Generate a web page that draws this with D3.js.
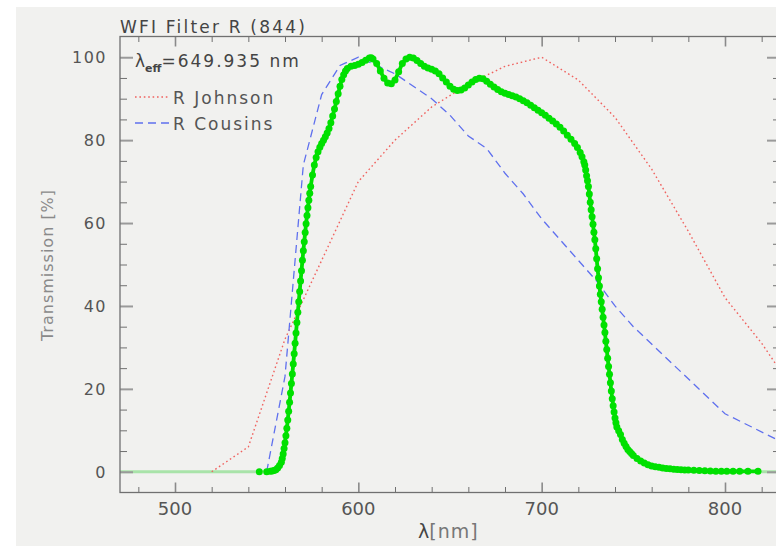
<!DOCTYPE html>
<html>
<head>
<meta charset="utf-8">
<script src="https://cdn.jsdelivr.net/npm/d3@7"></script>
<style>
  html, body { margin: 0; padding: 0; background: #ffffff; }
  svg { display: block; }
  text { font-family: "DejaVu Sans", sans-serif; }
</style>
</head>
<body>
<svg id="chart" width="776" height="546"></svg>
<script>
// ---------------- data ----------------
const titleText = "WFI Filter R (844)";
const lambdaEff = "649.935";
const xMajorTicks = [500, 600, 700, 800];
const xMinorTicks = [480, 520, 540, 560, 580, 620, 640, 660, 680, 720, 740, 760, 780, 820];
const yMajorTicks = [0, 20, 40, 60, 80, 100];
const yMinorTicks = [5, 10, 15, 25, 30, 35, 45, 50, 55, 65, 70, 75, 85, 90, 95];

// WFI R filter (844) transmission [%]
const greenNm = [546, 550, 552, 553, 554, 555, 556, 557, 558, 558.5, 559, 559.5, 560, 560.5, 561, 561.5, 562, 562.5, 563, 563.5,
  564, 564.5, 565, 565.5, 566, 566.5, 567, 567.5, 568, 568.5, 569, 569.5, 570, 570.5, 571, 571.5, 572, 572.5, 573, 573.5,
  574, 575, 576, 577, 578, 579, 580, 581, 582, 583, 584, 585, 586, 587, 588, 589, 590, 591, 592, 593,
  594, 596, 598, 600, 602, 604, 606, 607, 608, 610, 612, 614, 616, 618, 620, 622, 624, 626, 628, 630,
  632, 634, 636, 638, 640, 642, 644, 646, 648, 650, 652, 654, 656, 658, 660, 662, 664, 666, 668, 670,
  672, 674, 676, 678, 680, 682, 684, 686, 688, 690, 692, 694, 696, 698, 700, 702, 704, 706, 708, 710,
  712, 714, 716, 718, 719.5, 721, 722, 723, 723.5, 724, 724.5, 725, 725.5, 726, 726.5, 727, 727.5, 728, 728.5, 729,
  729.5, 730, 730.5, 731, 731.5, 732, 732.5, 733, 733.5, 734, 734.5, 735, 735.5, 736, 736.5, 737, 737.5, 738, 738.5, 739,
  739.5, 740, 740.5, 741, 742, 743, 744, 745, 746, 747, 748, 749, 750, 752, 754, 756, 758, 760, 762, 764,
  766, 768, 770, 772, 774, 776, 778, 780, 783, 786, 789, 792, 795, 798, 801, 804.4, 808, 812.5, 818];
const greenT = [0, 0, 0.1, 0.2, 0.3, 0.5, 0.9, 1.5, 2.3, 3.2, 4.3, 5.6, 7.0, 8.7, 10.5, 12.5, 14.6, 16.8, 19.0, 21.3,
  23.6, 26.0, 28.5, 31.0, 33.5, 36.0, 38.5, 41.0, 43.5, 46.0, 48.5, 51.0, 53.3, 55.5, 57.7, 59.8, 61.8, 63.7, 65.5, 67.2,
  68.8, 71.6, 74.0, 75.8, 77.2, 78.3, 79.2, 80.0, 80.8, 81.7, 82.8, 84.2, 85.8, 87.5, 89.3, 91.2, 93.0, 94.6, 95.8, 96.7,
  97.3, 97.8, 98.0, 98.3, 98.7, 99.3, 99.8, 99.9, 99.6, 98.5, 96.7, 94.9, 93.8, 93.6, 94.5, 96.5, 98.5, 99.6, 100, 99.8,
  99.2, 98.5, 97.8, 97.4, 97.1, 96.7, 96.0, 95.0, 94.0, 93.0, 92.3, 92.0, 92.1, 92.6, 93.3, 94.0, 94.6, 94.9, 94.8, 94.2,
  93.5, 92.8, 92.2, 91.7, 91.3, 91.0, 90.7, 90.4, 90.0, 89.5, 89.0, 88.4, 87.8, 87.2, 86.6, 86.0, 85.3, 84.6, 83.9, 83.1,
  82.2, 81.2, 80.2, 79.2, 78.2, 77.0, 76.0, 74.8, 74.0, 72.8, 71.4, 70.2, 68.8, 67.0, 65.0, 63.2, 61.5, 59.7, 57.8, 56.0,
  53.8, 51.4, 49.0, 46.8, 44.8, 42.8, 41.0, 39.2, 37.3, 35.4, 33.6, 31.5, 29.5, 27.4, 25.4, 23.5, 21.5, 19.5, 17.6, 15.9,
  14.4, 13.0, 11.8, 10.8, 9.9, 9.0, 7.8, 6.9, 6.1, 5.4, 4.9, 4.4, 3.9, 3.2, 2.6, 2.1, 1.7, 1.4, 1.2, 1.1,
  0.9, 0.8, 0.7, 0.6, 0.55, 0.5, 0.45, 0.4, 0.35, 0.3, 0.25, 0.2, 0.15, 0.1, 0.1, 0.1, 0.1, 0.1, 0.1];

// flat zero segments outside the measured range
const baseLeftNm = [470, 546];
const baseRightNm = [818, 830];

// R Johnson
const johnsonNm = [520, 540, 560, 580, 600, 620, 640, 660, 680, 700, 720, 740, 760, 780, 800, 820, 840];
const johnsonT = [0, 6, 32, 51, 70, 80, 88, 93.5, 97.8, 100, 94.5, 85.5, 73, 58, 42, 31, 18];

// R Cousins
const cousinsNm = [550, 560, 570, 580, 590, 600, 610, 620, 630, 640, 650, 660, 670, 680, 690, 700, 710, 720, 730, 740, 750, 800, 850];
const cousinsT = [0, 23, 74, 91, 98, 100, 98, 96, 93, 90, 86, 81, 78, 72, 67, 61, 56, 51, 46, 40, 35, 14, 3];

// ---------------- chart ----------------
const svg = d3.select("#chart");
const plot = { left: 120, right: 780, top: 36.5, bottom: 492.5 };

svg.append("rect").attr("x", 16).attr("y", 7).attr("width", 760).attr("height", 539).attr("fill", "#f1f1ef");

const x = d3.scaleLinear().domain([470, 830]).range([plot.left, plot.right]);
const y = d3.scaleLinear().domain([-5, 105]).range([plot.bottom, plot.top]);

svg.append("defs").append("clipPath").attr("id", "clip")
  .append("rect").attr("x", plot.left).attr("y", plot.top)
  .attr("width", plot.right - plot.left).attr("height", plot.bottom - plot.top);

const line = d3.line().x(d => x(d[0])).y(d => y(d[1]));
const g = svg.append("g").attr("clip-path", "url(#clip)");

// pale zero baseline segments
[baseLeftNm, baseRightNm].forEach(seg => {
  g.append("path").attr("d", line(seg.map(v => [v, 0])))
    .attr("fill", "none").attr("stroke", "#a9e3a9").attr("stroke-width", 3);
});

// Johnson dotted
g.append("path").attr("d", line(johnsonNm.map((v, i) => [v, johnsonT[i]])))
  .attr("fill", "none").attr("stroke", "#f0625f").attr("stroke-width", 1.4)
  .attr("stroke-dasharray", "1.6 2.8");

// Cousins dashed
g.append("path").attr("d", line(cousinsNm.map((v, i) => [v, cousinsT[i]])))
  .attr("fill", "none").attr("stroke", "#5f70ee").attr("stroke-width", 1.3)
  .attr("stroke-dasharray", "8 5");

// green filter curve
const greenData = greenNm.map((v, i) => [v, greenT[i]]);
g.append("path").attr("d", line(greenData.filter(d => d[0] >= 550)))
  .attr("fill", "none").attr("stroke", "#00e000").attr("stroke-width", 3.8)
  .attr("stroke-linejoin", "round").attr("stroke-linecap", "round");
g.selectAll("circle.g").data(greenData).enter().append("circle")
  .attr("cx", d => x(d[0])).attr("cy", d => y(d[1])).attr("r", 3.5).attr("fill", "#00e000");

// ---------------- axes ----------------
const axisColor = "#707070";
function styleAxis(sel, color, width) {
  sel.select(".domain").remove();
  sel.selectAll(".tick line").attr("stroke", color).attr("stroke-width", width);
}
// bottom
svg.append("g").attr("transform", `translate(0,${plot.bottom})`)
  .call(d3.axisBottom(x).tickValues(xMinorTicks).tickSize(-5.5).tickFormat(""))
  .call(s => styleAxis(s, "#707070", 1));
svg.append("g").attr("transform", `translate(0,${plot.bottom})`)
  .call(d3.axisBottom(x).tickValues(xMajorTicks).tickSize(-10).tickFormat(""))
  .call(s => styleAxis(s, "#8a8a8a", 1.6));
// top
svg.append("g").attr("transform", `translate(0,${plot.top})`)
  .call(d3.axisTop(x).tickValues(xMinorTicks).tickSize(-5.5).tickFormat(""))
  .call(s => styleAxis(s, "#707070", 1));
svg.append("g").attr("transform", `translate(0,${plot.top})`)
  .call(d3.axisTop(x).tickValues(xMajorTicks).tickSize(-10).tickFormat(""))
  .call(s => styleAxis(s, "#8a8a8a", 1.6));
// left
svg.append("g").attr("transform", `translate(${plot.left},0)`)
  .call(d3.axisLeft(y).tickValues(yMinorTicks).tickSize(-7).tickFormat(""))
  .call(s => styleAxis(s, "#707070", 1));
svg.append("g").attr("transform", `translate(${plot.left},0)`)
  .call(d3.axisLeft(y).tickValues(yMajorTicks).tickSize(-13).tickFormat(""))
  .call(s => styleAxis(s, "#9a9a9a", 2));
// right
svg.append("g").attr("transform", `translate(${plot.right},0)`)
  .call(d3.axisRight(y).tickValues(yMinorTicks).tickSize(-7).tickFormat(""))
  .call(s => styleAxis(s, "#707070", 1));
svg.append("g").attr("transform", `translate(${plot.right},0)`)
  .call(d3.axisRight(y).tickValues(yMajorTicks).tickSize(-13).tickFormat(""))
  .call(s => styleAxis(s, "#9a9a9a", 2));

// frame
svg.append("rect").attr("x", plot.left).attr("y", plot.top)
  .attr("width", plot.right - plot.left).attr("height", plot.bottom - plot.top)
  .attr("fill", "none").attr("stroke", axisColor).attr("stroke-width", 1.3);

// tick labels
svg.selectAll("text.xl").data(xMajorTicks).enter().append("text")
  .attr("x", d => x(d)).attr("y", 515).attr("text-anchor", "middle")
  .attr("font-size", 18).attr("fill", "#555").text(d => d);
svg.selectAll("text.yl").data(yMajorTicks).enter().append("text")
  .attr("x", 107).attr("y", d => y(d) + 5.8).attr("text-anchor", "end")
  .attr("font-size", 16).attr("letter-spacing", 1.5).attr("fill", "#555").text(d => d);

// title
svg.append("text").attr("x", 120).attr("y", 33).attr("font-size", 17)
  .attr("letter-spacing", 2.2).attr("fill", "#444").text(titleText);

// axis titles
svg.append("text").attr("transform", "translate(53,265) rotate(-90)")
  .attr("text-anchor", "middle").attr("font-size", 16).attr("letter-spacing", 1)
  .attr("fill", "#8a8a8a").text("Transmission [%]");
const xl = svg.append("text").attr("x", 418).attr("y", 538).attr("font-size", 19).attr("fill", "#444");
xl.append("tspan").text("λ");
xl.append("tspan").attr("font-size", 19).attr("fill", "#777").attr("letter-spacing", 1).text("[nm]");

// lambda eff
const le = svg.append("text").attr("x", 135).attr("y", 67).attr("font-size", 17).attr("fill", "#444");
le.append("tspan").text("λ");
le.append("tspan").attr("font-size", 11).attr("dy", 5).attr("font-weight", "bold").text("eff");
le.append("tspan").attr("dy", -5).attr("letter-spacing", 2).text("=" + lambdaEff + " nm");

// legend
const legend = [
  { name: "R Johnson", color: "#f0625f", dash: "1.6 2.8", width: 1.4, y: 97 },
  { name: "R Cousins", color: "#5f70ee", dash: "8 5", width: 1.3, y: 123 }
];
legend.forEach(l => {
  svg.append("line").attr("x1", 135).attr("x2", 170).attr("y1", l.y).attr("y2", l.y)
    .attr("stroke", l.color).attr("stroke-width", l.width).attr("stroke-dasharray", l.dash);
  svg.append("text").attr("x", 173).attr("y", l.y + 6.5).attr("font-size", 17)
    .attr("letter-spacing", 2).attr("fill", "#555").text(l.name);
});
</script>
</body>
</html>
